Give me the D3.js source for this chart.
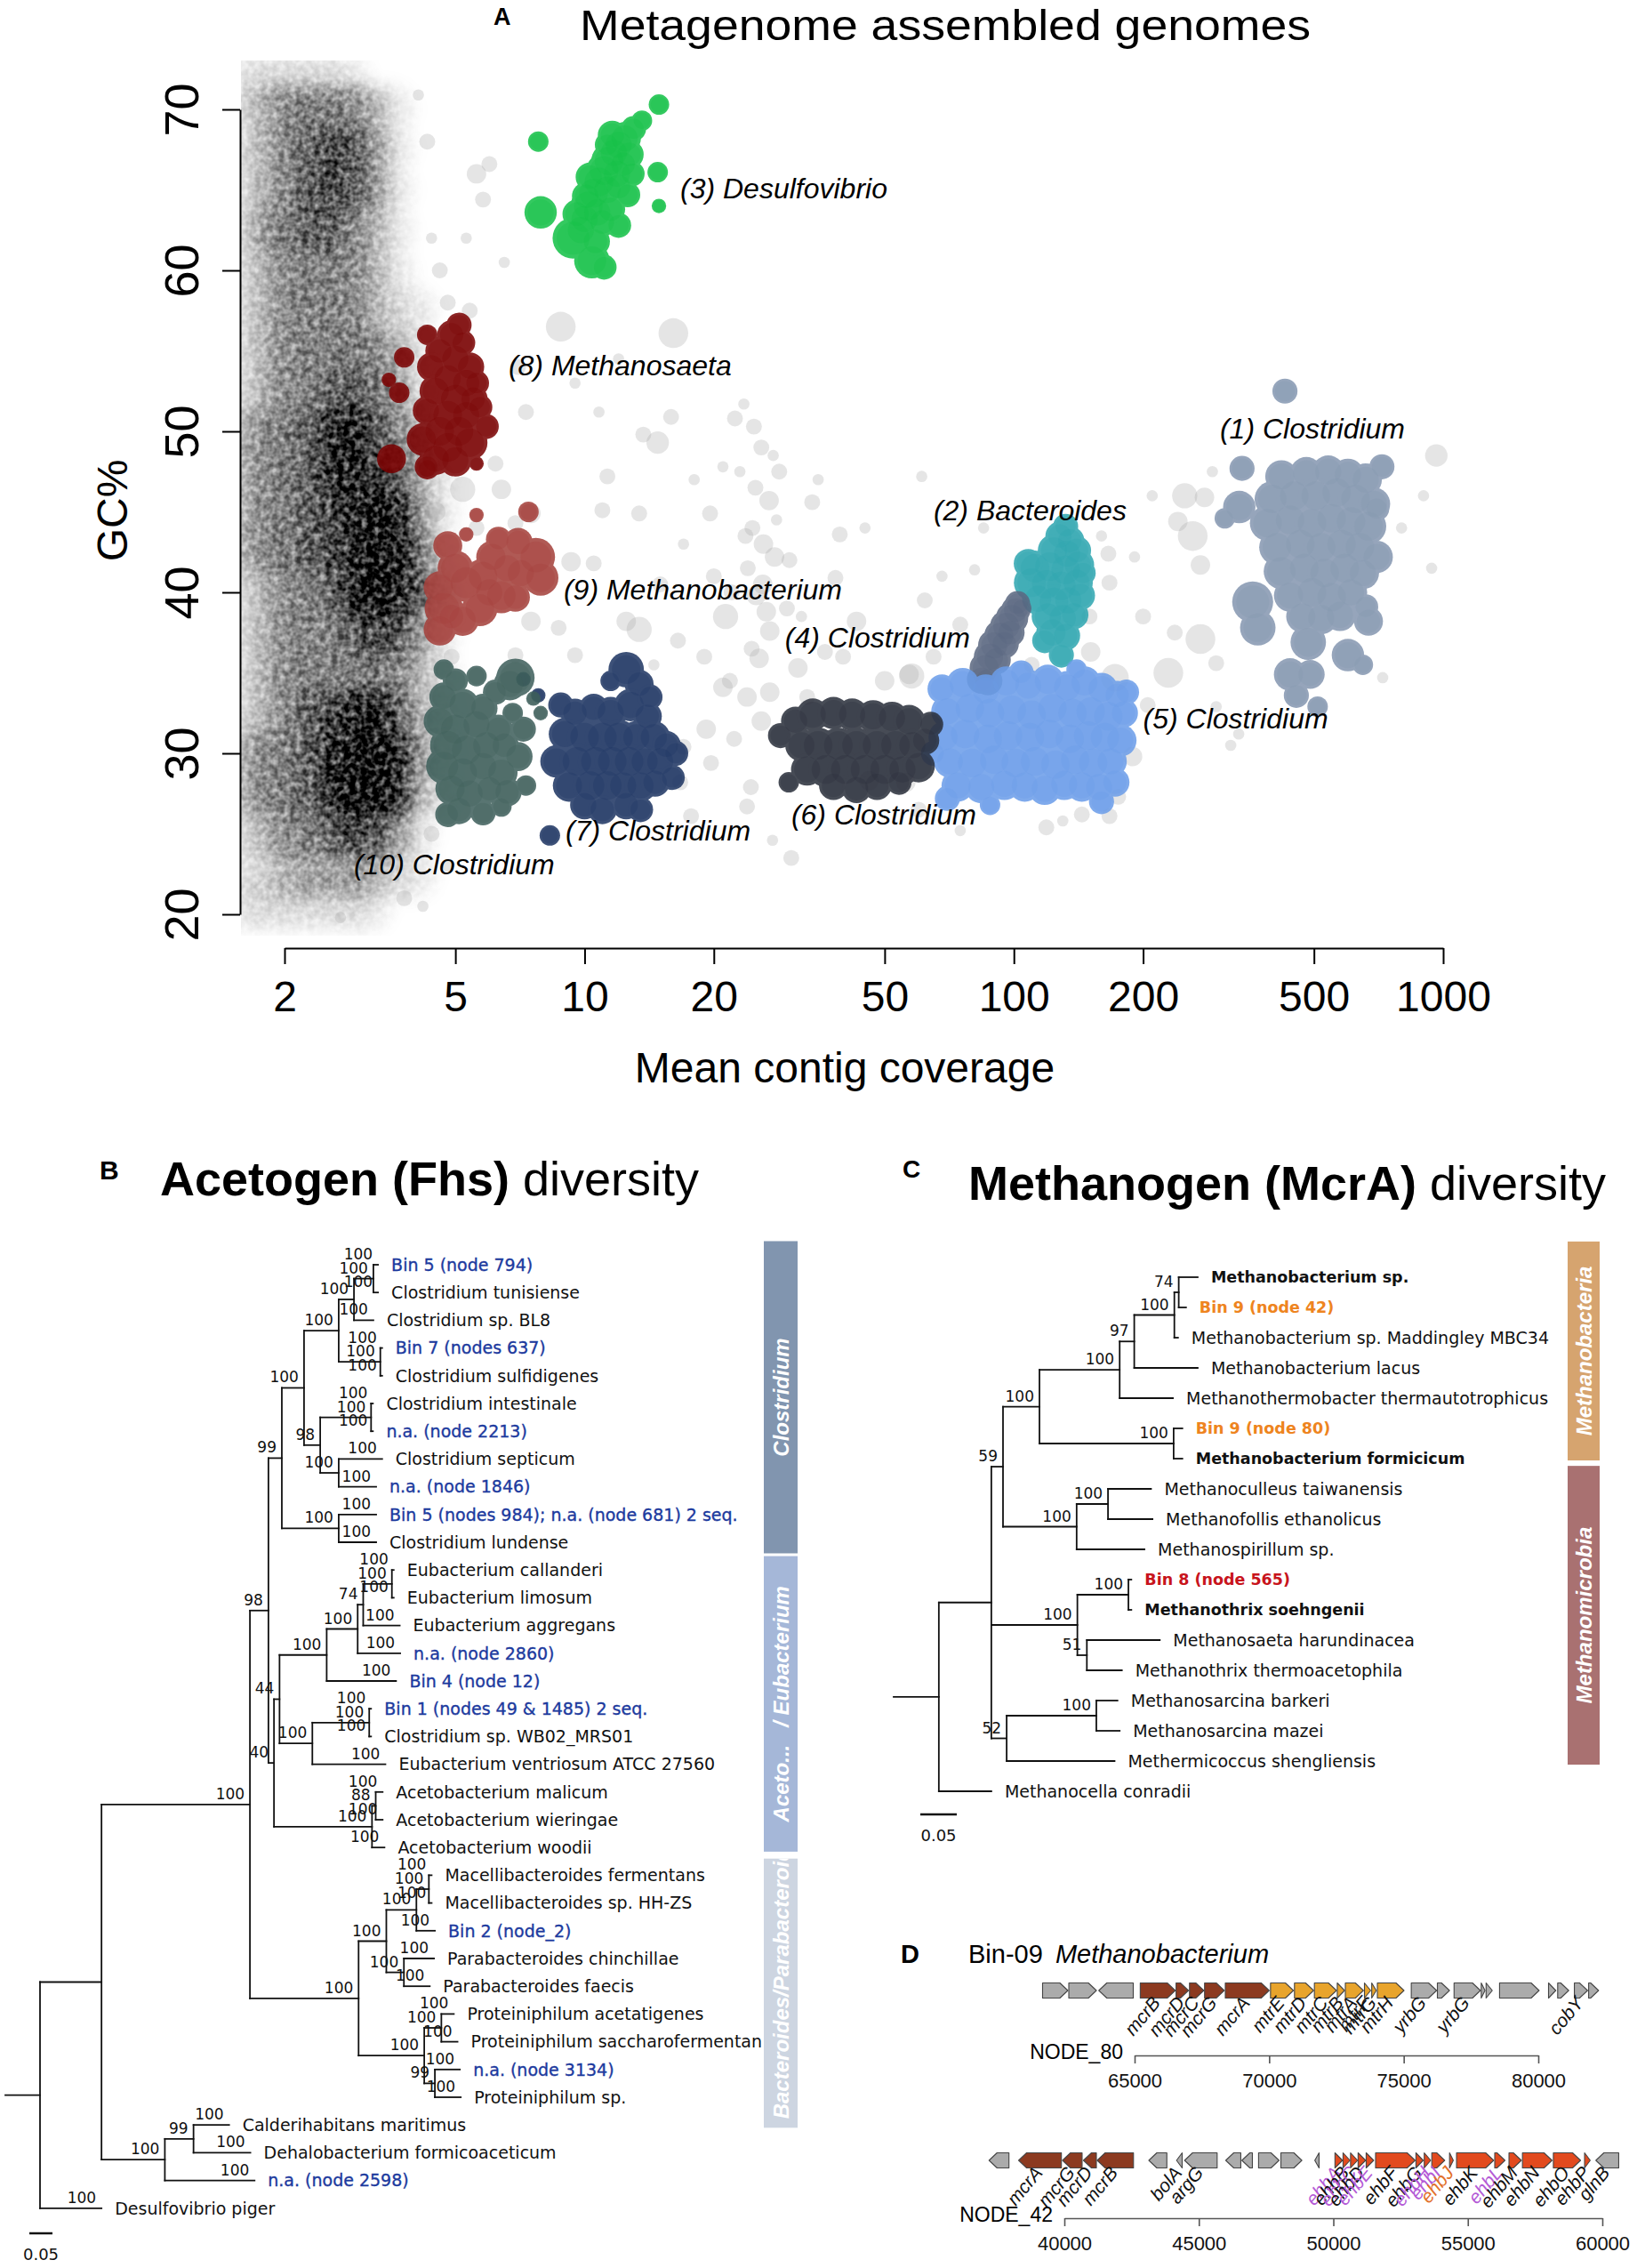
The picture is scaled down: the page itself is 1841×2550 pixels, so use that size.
<!DOCTYPE html>
<html>
<head>
<meta charset="utf-8">
<title>Metagenome bins, Fhs and McrA diversity</title>
<script src="https://cdn.jsdelivr.net/npm/d3@7"></script>
<style>
  html, body { margin: 0; background: #fff; }
  svg { display: block; }
</style>
</head>
<body>
<svg id="fig" width="1841" height="2550"></svg>
<script>
// ---------------- PANEL A data: [mean coverage, GC%, contig size] ----------------
const covTicks = [2, 5, 10, 20, 50, 100, 200, 500, 1000]
const gcTicks = [20, 30, 40, 50, 60, 70]

// low coverage contigs: black cloud read as a density map (0 = empty .. 5 = black)
const cloudCov = [1.62, 1.85, 2.1, 2.4, 2.75, 3.1, 3.5, 3.95, 4.45]
const cloudGC = [72, 70, 67.5, 65, 62.5, 60, 57.5, 55, 52.5, 50, 47.5, 45, 42.5, 40, 37.5, 35, 32.5, 30, 27.5, 25, 22.5, 20.5]
const cloudDensity = [
  [1,1,1,1,1,0,0,0,0],
  [1,2,3,3,3,2,1,0,0],
  [1,2,3,4,4,3,1,0,0],
  [1,2,3,4,4,3,1,0,0],
  [1,3,3,4,3,2,1,0,0],
  [1,2,3,3,3,2,1,0,0],
  [1,2,3,3,3,2,1,1,0],
  [1,2,3,3,3,3,2,1,0],
  [1,2,3,3,4,3,3,1,0],
  [2,3,3,4,5,4,3,2,0],
  [2,3,3,4,5,4,4,2,1],
  [2,3,3,4,4,5,5,3,1],
  [2,3,3,4,4,5,5,4,1],
  [1,2,3,3,4,5,5,4,2],
  [1,2,3,3,3,4,4,3,1],
  [1,2,3,3,3,3,3,2,1],
  [1,2,3,4,4,5,4,2,1],
  [2,3,3,4,5,5,5,3,1],
  [2,3,3,4,5,5,5,2,1],
  [1,2,3,3,4,4,3,1,0],
  [1,1,2,2,2,2,1,1,0],
  [1,1,1,1,1,1,0,0,0]
]

// contigs outside any bin
const unbinned = [
  [5.6,66.0,3],[5.8,64.4,2],[4.3,68,2],[4.1,70.9,1],[5.4,57.5,2],[8.8,56.5,7],[16.1,56.1,7],[6.0,66.6,2],[7.3,51.2,2],[10.8,51.2,1],
  [14.8,49.3,4],[15.9,50.9,2],[13.7,49.8,2],[11.3,47.2,2],[13.4,44.9,2],[19.6,44.9,2],[22.4,50.8,2],[23.5,51.7,1],[24.8,50.3,2],[25.8,49,2],
  [28.4,47.5,2],[26.9,45.7,3],[24.6,44.0,2],[26.1,43,3],[27.7,42.2,3],[33.9,45.6,2],[39.3,43.6,2],[23.7,43.5,2],[21.3,38.5,5],[25.1,39.8,3],
  [27,37.6,3],[25.5,35.9,3],[29.6,39,2],[21.8,34.5,2],[31.4,35.3,3],[36.3,36.3,2],[57.8,34.8,5],[50,34.5,3],[13.4,37.7,5],[12.5,38.2,3],
  [10.5,41.8,2],[11.0,45.1,2],[7.5,44.9,3],[6.4,46.4,3],[6.2,48,2],[5.2,46.4,5],[5.6,44,2],[6.9,36.1,2],[7.5,38.2,3],[8.7,37.8,2],
  [9.3,41.9,3],[6.9,44.3,2],[9.5,36.1,2],[62,39.5,2],[61,47.2,1],[43,38.2,3],[38.4,40.9,2],
  [5.3,62,1],[6.5,60.5,1],[7.0,54,2],[9.5,53,1],[12,54.5,1],[18,47,1],[20,41,2],[17,43,1],[15,40.5,2],[16.5,37,2],
  [19,36,2],[14.5,35.5,1],[22,40,2],[24,41.5,2],[26,40.5,3],[28,44.5,1],[30,42,2],[32,38.5,1],[35,47,1],[45,44,1],
  [40,36,2],[33,33.5,2],[27,33.8,3],[24.5,36.5,2],[26.5,38.8,3],[25,46.5,2],[27.5,48.5,1],[23,47.5,1],[21,47.8,1],
  [250,46,5],[278,45.9,3],[261,43.5,7],[272,41.7,3],[241,44.4,3],[272,37.1,7],[229,35,7],[964,48.5,4],[940,41.5,1],[167,40.6,2],
  [166,42.4,2],[191,42.2,1],[172,34.7,6],[151,36.3,3],[57,34.9,3],[81,41.4,1],[237,37.5,2],[296,35.6,2],[296,32.9,1],[334,31.2,1],
  [189,29.8,3],[167,26.1,2],[144,26.2,2],[119,25.4,2],[723,34.7,1],
  [65,36,2],[68,41,1],[75,38,2],[85,44,1],[110,35.5,2],[150,38.5,2],[160,43.5,1],[200,38.5,2],[210,46,1],[290,47.5,1],
  [320,30.5,1],[800,44,1],[900,46,1],[205,33,2],[175,27.3,2],[130,25.8,1],[75,25.2,1],[60,26.5,2],
  [21,34.1,3],[23.9,33.5,3],[25.8,32,3],[22.3,30.9,2],[19.7,29.4,2],[24.4,27.9,2],[30.3,23.5,2],[46,28.3,3],[56,28.2,3],[16.7,28.2,2],
  [17,30.4,2],[19.2,31.5,3],[17.7,26.1,2],[23.9,26.7,2],[27.4,24.6,1],
  [4.6,60,2],[4.4,62,1],[4.8,58,2],[4.5,45,3],[4.9,36,2],[4.4,25,2],[4.8,23,1],[3.8,21,2],[4.2,20.5,1],[2.7,19.8,1]
]

const bin01 = [
  [428,52.5,3],[340,47.7,3],[335,45.3,5],[360,39.4,8],[370,37.8,6],[485,36.9,6],[440,34.9,5],[490,34.9,4],[670,38.2,4],[660,39.1,3],
  [600,36.1,5],[510,32.9,2],[310,44.6,2],[700,45.2,3],[720,47.8,3],[650,35.5,2],[455,33.6,3],
  [420,47.2,5],[480,47.4,5],[540,47.5,5],[600,47.3,5],[660,47.0,5],[400,45.8,6],[450,46.0,6],[505,46.0,6],[565,46.2,6],[625,45.8,6],
  [690,45.5,5],[390,44.3,6],[440,44.5,6],[495,44.3,6],[550,44.6,6],[610,44.4,6],[670,44.1,6],[410,42.8,6],[465,43.0,6],[520,42.8,6],
  [580,43.0,6],[640,42.8,6],[700,42.2,5],[420,41.3,6],[475,41.5,6],[530,41.2,6],[590,41.5,6],[650,41.2,5],[440,39.8,5],[495,40.0,6],
  [550,39.7,6],[610,40.0,5],[470,38.5,5],[520,38.4,5],[575,38.6,5]
]
const bin02 = [
  [132,44.1,3],[128,43.5,4],[135,43.2,4],[124,42.6,5],[133,42.4,5],[140,42.6,4],[112,41.5,6],[121,41.6,6],[132,41.4,6],[141,41.7,5],
  [110,40.6,6],[119,40.5,6],[129,40.4,6],[140,40.6,5],[114,39.6,5],[124,39.4,6],[134,39.5,5],[143,39.8,4],[120,38.5,5],[130,38.4,5],
  [138,38.6,4],[123,37.5,5],[132,37.3,4],[129,36.1,3],[118,37.0,3],[108,41.8,4],[145,41.2,3]
]
const bin03 = [
  [7.8,68.0,2],[14.9,70.3,2],[7.9,63.6,5],[9.4,62.0,8],[10.4,60.6,6],[11.1,60.2,3],[14.8,66.1,2],[14.9,64.0,1],[13.6,69.3,2],[11.3,67.8,3],
  [12.0,62.8,3],[12.6,64.7,3],
  [9.8,62.5,5],[10.0,63.2,5],[10.2,64.0,6],[10.5,64.8,6],[10.8,65.5,6],[11.1,66.2,6],[11.4,66.8,6],[11.7,67.3,5],[12.0,67.8,5],[12.4,68.2,5],
  [12.7,67.2,4],[11.9,66.0,5],[11.3,65.0,5],[10.7,63.6,5],[12.3,66.6,4],[10.3,65.8,4],[11.6,68.4,4],[11.0,63.0,4],[10.1,64.6,4],[12.0,65.2,4],
  [11.5,63.8,4],[9.6,63.5,4],[10.6,61.8,4],[13.0,68.8,3],[12.9,66.0,3]
]
const bin04 = [
  [84,34.6,4],[86,35.3,5],[88,36,5],[90,36.7,5],[93,37.3,5],[96,37.9,5],[99,38.4,5],[101,38.9,4],[102,39.3,3],[87,34.5,4],
  [91,35.8,4],[95,36.8,4],[98,37.5,4],[104,39.0,2]
]
const bin05 = [
  [68,34,4],[76,34.3,5],[86,33.9,5],[96,34.4,5],[108,34.2,5],[120,34.5,5],[133,34.1,5],[146,34.4,5],[160,34.0,5],[174,33.6,4],
  [70,32.6,5],[79,32.8,6],[88,32.5,6],[99,32.7,6],[110,32.4,6],[123,32.8,6],[137,32.5,6],[151,32.6,6],[166,32.3,6],[180,32.5,4],
  [69,31,5],[77,31.2,6],[87,30.9,6],[97,31.1,6],[109,31,6],[121,31.2,6],[135,30.9,6],[149,31.1,6],[163,31,6],[177,30.8,5],
  [71,29.5,5],[80,29.4,6],[90,29.6,6],[101,29.4,6],[112,29.5,6],[125,29.3,6],[139,29.6,6],[153,29.4,6],[168,29.5,5],
  [74,28,5],[84,27.9,5],[95,28.1,5],[106,28,5],[118,27.8,5],[131,28.1,5],[144,28,5],[158,27.9,5],[172,28.2,4],
  [70,27.2,3],[88,26.8,2],[104,35.0,3],[140,35.2,2],[160,27.0,3],[183,33.8,3],[65,30,3]
]
const bin06 = [
  [28.6,31.1,3],[29.9,28.2,2],[31,32,4],[34,32.4,5],[38,32.5,5],[42,32.4,5],[47,32.3,5],[52,32.2,5],[57,32,5],[32,30.5,5],
  [35,30.5,6],[39,30.5,6],[43,30.5,6],[48,30.5,6],[53,30.5,6],[58,30.5,5],[62,30.8,4],[33,29,5],[36.5,29,6],[40.5,29,6],
  [45,29,6],[50,29,6],[55,29,5],[60,29.2,5],[38,28,4],[43,27.8,4],[48,28,4],[54,28.2,3],[64,31.8,3]
]
const bin07 = [
  [12.5,35.2,6],[13.4,34.3,4],[8.3,24.9,2],[11.5,34.5,2],[8.8,33,3],[9.5,32.5,4],[10.5,32.8,4],[11.5,32.5,5],[12.8,33,5],[14.0,32.3,4],
  [9.0,31.2,5],[10.0,31,6],[11.0,31,6],[12.0,31,6],[13.2,31,5],[14.5,31,5],[15.5,30.5,4],[8.6,29.5,5],[9.6,29.5,6],[10.6,29.5,6],
  [11.6,29.5,6],[12.7,29.5,6],[13.8,29.5,5],[15.0,29.5,5],[9.2,28,5],[10.3,28,6],[11.3,28,6],[12.3,28,5],[13.5,28,5],[14.6,28.2,4],
  [10,26.8,4],[11,26.5,4],[12.5,26.8,4],[13.5,26.5,3],[16.3,30,3],[16,28.5,3],[14.2,33.5,3],[7.8,33.6,1],[7.2,34.6,1]
]
const bin08 = [
  [4.3,56,2],[3.8,54.6,2],[3.5,53.2,1],[3.7,52.4,2],[3.55,48.3,4],[5.9,50.3,3],[5.6,48,1],[4.3,47.7,2],[5.1,56.6,3],
  [4.9,56,4],[5.2,55.5,3],[4.6,55,4],[5.0,54.5,5],[5.4,54,4],[4.4,54,4],[4.8,53.3,5],[5.3,53,5],[4.5,52.5,5],[5.0,52,6],
  [5.5,52,4],[4.3,51.3,4],[4.8,51,6],[5.3,51,5],[4.6,50,6],[5.1,50,6],[4.2,49.5,5],[5.4,49.3,6],[4.8,49,6],[4.5,48.3,5],
  [5.0,48.2,5],[4.3,47.8,3],[5.6,53,3],[5.7,51.5,3]
]
const bin09 = [
  [4.7,39,7],[4.8,42.9,4],[5.3,40.6,7],[6.1,42.2,5],[6.4,39.8,6],[7.7,42.2,7],[7.9,40.9,6],[7.1,41.2,5],[5.7,39,6],[4.6,37.7,5],
  [7.4,45,2],[5.6,44.8,1],[5.3,43.6,1],[5.0,41.5,6],[5.8,41,6],[6.6,41.5,5],[4.6,40.3,5],[5.2,38.3,5],[6.0,40,5],[6.9,39.7,4],
  [7.0,43.1,4],[4.9,38.5,4],[6.3,43.3,3]
]
const bin10 = [
  [4.7,35.2,2],[5.0,34.5,3],[5.6,34.8,2],[6.9,34.7,7],[6.7,34.3,5],[6.2,33.8,3],[4.7,33.5,4],[5.2,33,5],[5.8,32.8,4],[4.6,32,5],
  [5.0,31.5,6],[5.6,31.8,5],[6.3,31.5,4],[4.8,30.5,6],[5.3,30.2,6],[5.9,30.5,5],[6.5,30.5,4],[4.7,29.2,6],[5.2,28.8,6],[5.8,29.2,5],
  [6.4,28.8,5],[7.0,29.8,4],[4.9,27.8,5],[5.4,27.5,5],[6.0,27.8,4],[6.6,27.6,4],[5.1,26.5,4],[5.8,26.3,3],[4.8,26.2,3],[7.2,31.5,3],
  [6.8,32.5,2],[7.6,33.4,1],[7.9,32.5,1],[6.4,26.7,2],[7.3,28,2]
]
const bins = [bin01, bin02, bin03, bin04, bin05, bin06, bin07, bin08, bin09, bin10]
const binNames = ['(1) Clostridium', '(2) Bacteroides', '(3) Desulfovibrio', '(4) Clostridium', '(5) Clostridium',
  '(6) Clostridium', '(7) Clostridium', '(8) Methanosaeta', '(9) Methanobacterium', '(10) Clostridium']
// where each bin name sits, in [coverage, GC%]
const binNameAt = [[302,50.2],[65,45.1],[16.7,65.1],[29.3,37.2],[200,32.2],[30.3,26.2],[9.03,25.2],[6.65,54.1],[8.94,40.2],[2.9,23.1]]

// ---------------- PANEL B data: Fhs tree ----------------
const fhsTips = [
  'Bin 5 (node 794)', 'Clostridium tunisiense', 'Clostridium sp. BL8', 'Bin 7 (nodes 637)', 'Clostridium sulfidigenes',
  'Clostridium intestinale', 'n.a. (node 2213)', 'Clostridium septicum', 'n.a. (node 1846)',
  'Bin 5 (nodes 984); n.a. (node 681) 2 seq.', 'Clostridium lundense', 'Eubacterium callanderi', 'Eubacterium limosum',
  'Eubacterium aggregans', 'n.a. (node 2860)', 'Bin 4 (node 12)', 'Bin 1 (nodes 49 & 1485) 2 seq.',
  'Clostridium sp. WB02_MRS01', 'Eubacterium ventriosum ATCC 27560', 'Acetobacterium malicum', 'Acetobacterium wieringae',
  'Acetobacterium woodii', 'Macellibacteroides fermentans', 'Macellibacteroides sp. HH-ZS', 'Bin 2 (node_2)',
  'Parabacteroides chinchillae', 'Parabacteroides faecis', 'Proteiniphilum acetatigenes', 'Proteiniphilum saccharofermentan',
  'n.a. (node 3134)', 'Proteiniphilum sp.', 'Calderihabitans maritimus', 'Dehalobacterium formicoaceticum',
  'n.a. (node 2598)', 'Desulfovibrio piger'
]
// newick, tips given by index, "index/support:length", internal ")support:length"
const fhsClostA = '(((0/100:0.010,1/100:0.010)100:0.042,2/100:0.042)100:0.033,(3/100:0.004,4/100:0.004)100:0.090)100:0.075'
const fhsClostB = '((5/100:0.004,6/100:0.004)100:0.110,(7/100:0.094,8/100:0.081)100:0.040)98:0.035'
const fhsClostC = '(9/100:0.081,10/100:0.081)100:0.123'
const fhsEubact = '((((11/100:0.004,12/100:0.004)100:0.062,13/100:0.079)74:0.012,14/100:0.092)100:0.067,15/100:0.150)100:0.102'
const fhsBin1 = '((16/100:0.004,17/100:0.004)100:0.123,18/100:0.158)100:0.071'
const fhsAceto = '((19/100:0.015,20/100:0.015)88:0.008,21/100:0.027)100:0.212'
const fhsBactero = '((((22/100:0.006,23/100:0.006)100:0.027,24/100:0.040)100:0.065,(25/100:0.065,26/100:0.056)100:0.038)100:0.060,' +
  '((27/100:0.027,28/100:0.035)100:0.037,(29/100:0.054,30/100:0.056)99:0.023)100:0.142)100:0.235'
const fhsOutgroup = '((31/100:0.077,32/100:0.123)99:0.062,33/100:0.194)100:0.137'
const fhsNewick = `((((((${fhsClostA},${fhsClostB})100:0.048,${fhsClostC})99:0.029,((${fhsEubact},${fhsBin1})44:0.012,${fhsAceto})40:0.012)98:0.040,${fhsBactero})100:0.321,${fhsOutgroup}):0.133,34/100:0.133):0.075;`
const fhsClades = [['Clostridium', -0.85, 10.4], ['Aceto...\u00a0\u00a0 / Eubacterium', 10.5, 21.15], ['Bacteroides/Parabacteroides', 21.4, 31.1]]

// ---------------- PANEL C data: McrA tree ----------------
const mcrTips = [
  'Methanobacterium sp.', 'Bin 9 (node 42)', 'Methanobacterium sp. Maddingley MBC34', 'Methanobacterium lacus',
  'Methanothermobacter thermautotrophicus', 'Bin 9 (node 80)', 'Methanobacterium formicicum', 'Methanoculleus taiwanensis',
  'Methanofollis ethanolicus', 'Methanospirillum sp.', 'Bin 8 (node 565)', 'Methanothrix soehngenii',
  'Methanosaeta harundinacea', 'Methanothrix thermoacetophila', 'Methanosarcina barkeri', 'Methanosarcina mazei',
  'Methermicoccus shengliensis', 'Methanocella conradii'
]
const mcrTipKind = ['ref','bin9','','','','bin9','ref','','','','bin8','ref','','','','','','']
const mcrMethanobacteria = '(((((0:0.026,1:0.010)74:0.006,2:0.005)100:0.055,3:0.087)97:0.020,4:0.073)100:0.110,(5:0.012,6:0.012)100:0.184)100:0.050'
const mcrMicrobialesA = '((7:0.059,8:0.061)100:0.043,9:0.093)100:0.101'
const mcrMethanotrix = '((10:0.004,11:0.004)100:0.070,(12:0.100,13:0.048)51:0.013)100:0.118'
const mcrSarcina = '((14:0.029,15:0.032)100:0.123,16:0.148)52:0.021'
const mcrNewick = `(((${mcrMethanobacteria},${mcrMicrobialesA})59:0.016,${mcrMethanotrix},${mcrSarcina}):0.072,17:0.072):0.062;`
const mcrClades = [['Methanobacteria', -1.18, 6.06], ['Methanomicrobia', 6.24, 16.12]]

// ---------------- PANEL D data: [start, end, strand, gene family, name, name tone] ----------------
const node80Genes = [
  [61580,62520,1,'other',''],[62555,63580,1,'other',''],[63670,64950,-1,'other',''],
  [65210,66510,1,'mcr','mcrB'],[66540,67000,1,'mcr','mcrD'],[67040,67570,1,'mcr','mcrC'],[67600,68330,1,'mcr','mcrG'],
  [68370,70000,1,'mcr','mcrA'],[70050,70900,1,'mtr','mtrE'],[70940,71650,1,'mtr','mtrD'],[71680,72500,1,'mtr','mtrC'],
  [72530,72800,1,'mtr','mtrB'],[72830,73500,1,'mtr','mtrA'],[73540,73770,1,'mtr','mtrF'],[73810,73980,1,'mtr','mtrG'],
  [74020,75010,1,'mtr','mtrH'],[75280,76220,1,'other','yrbG'],[76250,76700,1,'other',''],[76870,77850,1,'other','yrbG'],
  [77880,78020,1,'other',''],[78060,78290,1,'other',''],[78560,80030,1,'other',''],[80380,80650,1,'other',''],
  [80720,81130,1,'other',''],[81340,81830,1,'other','cobY'],[81870,82240,1,'other','']
]
const node42Genes = [
  [37200,37940,-1,'other',''],[38300,39890,-1,'mcr','mcrA'],[39930,40660,-1,'mcr','mcrG'],[40710,41190,-1,'mcr','mcrD'],
  [41220,42570,-1,'mcr','mcrB'],[43140,43810,-1,'other',''],[44170,44380,-1,'other','bolA'],[44470,45680,-1,'other','argG'],
  [46000,46560,-1,'other',''],[46600,46990,-1,'other',''],[47220,47980,1,'other',''],[48050,48830,1,'other',''],
  [49310,49470,-1,'other',''],
  [50060,50340,1,'ehb','ehbA','p'],[50360,50620,1,'ehb','ehbB'],[50640,50900,1,'ehb','ehbC','p'],[50920,51200,1,'ehb','ehbD'],
  [51220,51500,1,'ehb','ehbE','p'],[51570,53040,1,'ehb','ehbF'],[53070,53340,1,'ehb','ehbG'],[53380,53620,1,'ehb','ehbH','p'],
  [53660,54140,1,'ehb','ehbI','p'],[54320,54460,1,'ehb','ehbJ','o'],[54580,55960,1,'ehb','ehbK'],[56000,56380,1,'ehb','ehbL','p'],
  [56530,56990,1,'ehb','ehbM'],[57030,58130,1,'ehb','ehbN'],[58180,59190,1,'ehb','ehbO'],[59340,59550,1,'ehb','ehbP'],
  [59760,60610,-1,'other','glnB']
]
const node80Ticks = [65000, 70000, 75000, 80000]
const node42Ticks = [40000, 45000, 50000, 55000, 60000]

// ---------------- drawing ----------------
const SANS = "'Liberation Sans', Arial, Helvetica, sans-serif"
const TREE = "'DejaVu Sans', Verdana, sans-serif"
const binColor = ['#8597b1','#2ea6b0','#13c147','#5b6881','#6b9de9','#2a2f3b','#1e3562','#7a0202','#a43f3a','#3e5f5b']

const svg = d3.select('#fig')
  .attr('font-family', SANS)
const defs = svg.append('defs')
// soft, grainy haze for the low coverage cloud
const haze = defs.append('filter').attr('id', 'haze')
  .attr('filterUnits', 'userSpaceOnUse').attr('x', 200).attr('y', 20).attr('width', 420).attr('height', 1100)
haze.append('feGaussianBlur').attr('in', 'SourceGraphic').attr('stdDeviation', 9).attr('result', 'soft')
haze.append('feTurbulence').attr('type', 'fractalNoise').attr('baseFrequency', 0.15)
  .attr('numOctaves', 2).attr('seed', 4).attr('result', 'noise')
haze.append('feColorMatrix').attr('in', 'noise').attr('type', 'matrix')
  .attr('values', '0 0 0 0 0  0 0 0 0 0  0 0 0 0 0  0 0 0 1.7 -0.3').attr('result', 'grain')
haze.append('feComposite').attr('in', 'soft').attr('in2', 'grain').attr('operator', 'arithmetic')
  .attr('k1', 1).attr('k2', 0.5).attr('k3', 0).attr('k4', 0)
defs.append('clipPath').attr('id', 'plotA')
  .append('rect').attr('x', 271).attr('y', 68).attr('width', 1390).attr('height', 984)

//INITIALIZE SCALES
const xScale = d3.scaleLog().domain([2, 1000]).range([320, 1623])
const yScale = d3.scaleLinear().domain([20, 70]).range([1028, 123])
const rScale = d3.scaleSqrt().domain([0, 10]).range([0, 20])
const binR = d3.scaleSqrt().domain([0, 10]).range([0, 23])
const hazeAlpha = d3.scaleLinear().domain([1, 2, 3, 4, 5]).range([0.07, 0.19, 0.28, 0.44, 0.66])

const cloudCells = []
cloudDensity.forEach((row, r) => row.forEach((v, c) => { if (v > 0) cloudCells.push([cloudCov[c], cloudGC[r], v]) }))

const gA = svg.append('g')
//black cloud
gA.append('g').attr('clip-path', 'url(#plotA)')
  .append('g').attr('filter', 'url(#haze)')
  .selectAll('circle').data(cloudCells).join('circle')
  .attr('cx', d => xScale(d[0]))
  .attr('cy', d => yScale(d[1]))
  .attr('r', 28)
  .attr('fill', '#000')
  .attr('fill-opacity', d => hazeAlpha(d[2]))
//grey contigs
gA.append('g').attr('clip-path', 'url(#plotA)')
  .selectAll('circle').data(unbinned).join('circle')
  .attr('cx', d => xScale(d[0]))
  .attr('cy', d => yScale(d[1]))
  .attr('r', d => rScale(d[2]))
  .attr('fill', '#a8a8a8')
  .attr('fill-opacity', 0.3)
//bins: a solid body, then the single contigs on top for texture
bins.forEach((bin, i) => {
  gA.append('g').attr('opacity', 0.86)
    .selectAll('circle').data(bin).join('circle')
    .attr('cx', d => xScale(d[0]))
    .attr('cy', d => yScale(d[1]))
    .attr('r', d => binR(d[2]) * 1.12)
    .attr('fill', binColor[i])
  gA.append('g')
    .selectAll('circle').data(bin).join('circle')
    .attr('cx', d => xScale(d[0]))
    .attr('cy', d => yScale(d[1]))
    .attr('r', d => binR(d[2]) * 0.9)
    .attr('fill', binColor[i])
    .attr('fill-opacity', 0.3)
})
gA.selectAll('text.binname').data(binNames).join('text')
  .attr('class', 'binname')
  .attr('x', (d, i) => xScale(binNameAt[i][0]))
  .attr('y', (d, i) => yScale(binNameAt[i][1]))
  .attr('dy', '0.36em')
  .attr('font-size', 32)
  .attr('font-style', 'italic')
  .attr('fill', '#000')
  .text(d => d)

//xaxis
gA.append('g')
  .attr('transform', 'translate(0,1066)')
  .call(d3.axisBottom(xScale).tickValues(covTicks).tickFormat(d3.format('d')).tickSize(18).tickSizeOuter(0).tickPadding(19))
  .attr('font-size', 48).attr('font-family', SANS)
  .call(g => g.selectAll('line,path').attr('stroke', '#000').attr('stroke-width', 2))
  .call(g => g.selectAll('text').attr('fill', '#000'))
//yaxis
gA.append('g')
  .attr('transform', 'translate(270,0)')
  .call(d3.axisLeft(yScale).tickValues(gcTicks).tickSize(20).tickSizeOuter(0))
  .attr('font-size', 54).attr('font-family', SANS)
  .call(g => g.selectAll('line,path').attr('stroke', '#000').attr('stroke-width', 2))
  .call(g => g.selectAll('text')
    .attr('fill', '#000').attr('x', 0).attr('dy', 0)
    .attr('text-anchor', 'middle')
    .attr('transform', 'translate(-47,0) rotate(-90)'))
gA.append('text').attr('x', 950).attr('y', 1217).attr('text-anchor', 'middle')
  .attr('font-size', 48).text('Mean contig coverage')
gA.append('text').attr('transform', 'translate(143,574) rotate(-90)').attr('text-anchor', 'middle')
  .attr('font-size', 48).text('GC%')
gA.append('text').attr('x', 652).attr('y', 45).attr('font-size', 48)
  .attr('textLength', 822).attr('lengthAdjust', 'spacingAndGlyphs')
  .text('Metagenome assembled genomes')
gA.append('text').attr('x', 555).attr('y', 28).attr('font-size', 27).attr('font-weight', 'bold').text('A')

// ---------- trees ----------
function parseNewick(s) {
  let i = 0
  function node() {
    const n = {children: []}
    if (s[i] === '(') {
      i++
      n.children.push(node())
      while (s[i] === ',') { i++; n.children.push(node()) }
      i++
    }
    let label = ''
    while (i < s.length && !',():;'.includes(s[i])) label += s[i++]
    if (s[i] === ':') {
      i++
      let num = ''
      while (i < s.length && !',();'.includes(s[i])) num += s[i++]
      n.length = +num
    }
    if (n.children.length) {
      n.support = label ? label : null
    } else {
      const parts = label.split('/')
      n.tip = +parts[0]
      n.support = parts[1] || null
    }
    return n
  }
  return node()
}

function drawTree(g, newick, tips, o) {
  const root = d3.hierarchy(parseNewick(newick), d => d.children.length ? d.children : null)
  const xs = d3.scaleLinear().domain([0, 1]).range([o.x0, o.x0 + o.pxPerUnit])
  const ys = d3.scaleLinear().domain([0, tips.length - 1]).range([o.y0, o.y0 + o.step * (tips.length - 1)])
  root.eachBefore(n => {
    n.dist = (n.parent ? n.parent.dist : 0) + (n.data.length || 0)
    n.px = xs(n.dist)
  })
  root.eachAfter(n => {
    n.py = n.children ? (n.children[0].py + n.children[n.children.length - 1].py) / 2 : ys(n.data.tip)
  })
  const edges = g.append('g').attr('stroke', '#111').attr('stroke-width', 1.8)
    .attr('stroke-linecap', 'square').attr('fill', 'none')
  edges.selectAll('path.h').data(root.descendants()).join('path').attr('class', 'h')
    .attr('d', n => `M${n.parent ? n.parent.px : xs(0)},${n.py}H${n.px}`)
  edges.selectAll('path.v').data(root.descendants().filter(n => n.children)).join('path').attr('class', 'v')
    .attr('d', n => `M${n.px},${n.children[0].py}V${n.children[n.children.length - 1].py}`)
  g.append('g').attr('font-family', TREE).attr('font-size', 17).attr('fill', '#111').attr('text-anchor', 'end')
    .selectAll('text').data(root.descendants().filter(n => n.data.support)).join('text')
    .attr('x', n => n.px - 6).attr('y', n => n.py - 6)
    .text(n => n.data.support)
  g.append('g').attr('font-family', TREE)
    .selectAll('text').data(root.leaves()).join('text')
    .attr('x', n => n.px + 15).attr('y', n => n.py).attr('dy', '0.36em')
    .each(function (n) { o.tipStyle(d3.select(this), n.data.tip) })
    .text(n => tips[n.data.tip])
  // scale bar
  g.append('line').attr('x1', o.barX).attr('x2', o.barX + 0.05 * o.pxPerUnit)
    .attr('y1', o.barY).attr('y2', o.barY).attr('stroke', '#111').attr('stroke-width', 2.5)
  g.append('text').attr('x', o.barX + 0.025 * o.pxPerUnit).attr('y', o.barY + 30)
    .attr('text-anchor', 'middle').attr('font-family', TREE).attr('font-size', 18).attr('fill', '#111').text('0.05')
  // clade bars
  o.clades.forEach((c, k) => {
    const top = ys(c[1]), bottom = ys(c[2])
    const id = `${o.id}clip${k}`
    defs.append('clipPath').attr('id', id).append('rect')
      .attr('x', o.barLeft).attr('y', top).attr('width', o.barWidth).attr('height', bottom - top)
    g.append('rect').attr('x', o.barLeft).attr('y', top).attr('width', o.barWidth).attr('height', bottom - top)
      .attr('fill', o.cladeColors[k])
    const t = g.append('g').attr('clip-path', `url(#${id})`).append('text')
      .attr('font-family', SANS).attr('font-size', 24).attr('font-weight', 'bold').attr('font-style', 'italic')
      .attr('fill', '#fff').text(c[0])
    const len = t.node().getComputedTextLength()
    const cx = o.barLeft + o.barWidth / 2 + 8.5
    if (len > bottom - top - 16) {
      t.attr('text-anchor', 'start').attr('transform', `translate(${cx},${bottom - 10}) rotate(-90)`)
    } else {
      t.attr('text-anchor', 'middle').attr('transform', `translate(${cx},${(top + bottom) / 2}) rotate(-90)`)
    }
  })
}

const gB = svg.append('g')
gB.append('text').attr('x', 112).attr('y', 1326).attr('font-size', 30).attr('font-weight', 'bold').text('B')
gB.append('text').attr('x', 180).attr('y', 1344).attr('font-size', 54)
  .call(t => t.append('tspan').attr('font-weight', 'bold').text('Acetogen (Fhs)'))
  .call(t => t.append('tspan').text(' diversity'))
drawTree(gB, fhsNewick, fhsTips, {
  id: 'fhs', x0: 6, pxPerUnit: 520, y0: 1422, step: 31.2, barX: 33, barY: 2511,
  barLeft: 859, barWidth: 38, clades: fhsClades, cladeColors: ['#8195af', '#a5b7d8', '#cdd5e1'],
  tipStyle: (t, i) => {
    const fromBins = /^(Bin|n\.a\.)/.test(fhsTips[i])
    t.attr('font-size', 19).attr('fill', fromBins ? '#1c3a9e' : '#111')
    if (fromBins) t.attr('stroke', '#1c3a9e').attr('stroke-width', 0.35)
  }
})

const gC = svg.append('g')
gC.append('text').attr('x', 1015).attr('y', 1324).attr('font-size', 28).attr('font-weight', 'bold').text('C')
gC.append('text').attr('x', 1089).attr('y', 1349).attr('font-size', 54)
  .call(t => t.append('tspan').attr('font-weight', 'bold').text('Methanogen (McrA)'))
  .call(t => t.append('tspan').text(' diversity'))
const mcrTone = {bin9: '#ee8420', bin8: '#c8141c', ref: '#111', '': '#111'}
drawTree(gC, mcrNewick, mcrTips, {
  id: 'mcr', x0: 1005, pxPerUnit: 820, y0: 1436, step: 34, barX: 1035, barY: 2040,
  barLeft: 1763, barWidth: 36, clades: mcrClades, cladeColors: ['#d6a46f', '#a97171'],
  tipStyle: (t, i) => {
    const kind = mcrTipKind[i]
    t.attr('fill', mcrTone[kind])
    if (kind) t.attr('font-size', 17.5).attr('font-weight', 'bold')
    else t.attr('font-size', 19)
  }
})

// ---------- gene maps ----------
const geneFill = {other: '#ababab', mcr: '#8c3a20', mtr: '#e8a42c', ehb: '#e24a1e'}
const toneFill = {p: '#b45ad6', o: '#e2702a'}
const gD = svg.append('g')
gD.append('text').attr('x', 1013).attr('y', 2207).attr('font-size', 29).attr('font-weight', 'bold').text('D')
gD.append('text').attr('x', 1089).attr('y', 2207).attr('font-size', 29)
  .call(t => t.append('tspan').text('Bin-09 '))
  .call(t => t.append('tspan').attr('dx', 6).attr('font-style', 'italic').text('Methanobacterium'))

function geneMap(genes, ticks, range, trackY, axisY, name) {
  const xs = d3.scaleLinear().domain([ticks[0], ticks[ticks.length - 1]]).range(range)
  const h = 17, head = 9
  const arrow = d => {
    const a = xs(d[0]), b = xs(d[1]), hl = Math.min(head, b - a)
    const t = trackY - h / 2, bt = trackY + h / 2
    return d[2] > 0
      ? `M${a},${t}L${b - hl},${t}L${b},${trackY}L${b - hl},${bt}L${a},${bt}Z`
      : `M${b},${t}L${a + hl},${t}L${a},${trackY}L${a + hl},${bt}L${b},${bt}Z`
  }
  gD.append('g').selectAll('path').data(genes).join('path')
    .attr('d', arrow)
    .attr('fill', d => geneFill[d[3]])
    .attr('stroke', '#444').attr('stroke-width', 1.1).attr('stroke-linejoin', 'round')
  gD.append('g').attr('font-size', 21).attr('font-style', 'italic').attr('text-anchor', 'end')
    .selectAll('text').data(genes.filter(d => d[4])).join('text')
    .attr('transform', d => `translate(${xs((d[0] + d[1]) / 2) + 4},${trackY + h / 2 + 6}) rotate(-50)`)
    .attr('fill', d => toneFill[d[5]] || '#111')
    .text(d => d[4])
  gD.append('g')
    .attr('transform', `translate(0,${axisY})`)
    .call(d3.axisBottom(xs).tickValues(ticks).tickFormat(d3.format('d')).tickSize(9).tickSizeOuter(0).tickPadding(11))
    .attr('font-size', 22).attr('font-family', SANS)
    .call(g => g.selectAll('line,path').attr('stroke', '#555').attr('stroke-width', 1.6))
    .call(g => g.selectAll('text').attr('fill', '#111'))
  gD.append('text').attr('x', range[0] - 13).attr('y', axisY + 4).attr('text-anchor', 'end')
    .attr('font-size', 23).text(name)
}
geneMap(node80Genes, node80Ticks, [1276, 1730], 2238, 2311, 'NODE_80')
geneMap(node42Genes, node42Ticks, [1197, 1802], 2429, 2494, 'NODE_42')
</script>
</body>
</html>
